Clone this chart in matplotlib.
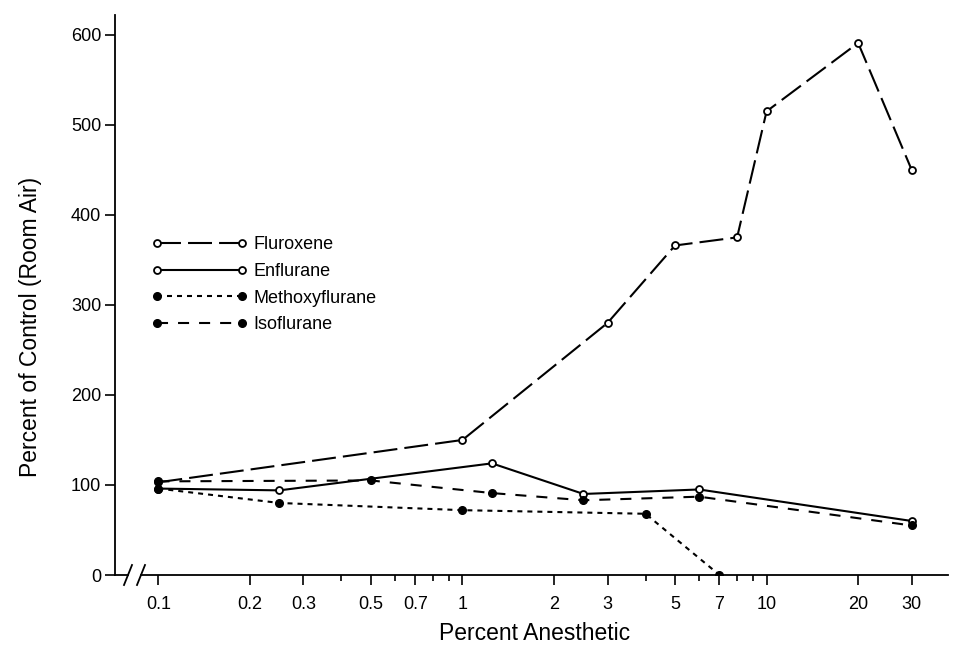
import numpy as np
import matplotlib
matplotlib.use('Agg')
import matplotlib.pyplot as plt
from matplotlib.ticker import FixedLocator, NullFormatter

plt.rcParams['font.family'] = ['Liberation Sans', 'DejaVu Sans']

# data
flur_x = [0.1, 1, 3, 5, 8, 10, 20, 30]
flur_y = [103, 150, 280, 366, 375, 515, 591, 450]
enfl_x = [0.1, 0.25, 1.25, 2.5, 6, 30]
enfl_y = [96, 94, 124, 90, 95, 60]
meth_x = [0.1, 0.25, 1, 4, 7]
meth_y = [96, 80, 72, 68, 0]
iso_x = [0.1, 0.5, 1.25, 2.5, 6, 30]
iso_y = [104, 105, 91, 83, 87, 55]

major_ticks = [0.1, 0.2, 0.3, 0.5, 0.7, 1, 2, 3, 5, 7, 10, 20, 30]
major_labels = ['0.1', '0.2', '0.3', '0.5', '0.7', '1', '2', '3', '5', '7', '10', '20', '30']
minor_ticks = [0.4, 0.6, 0.8, 0.9, 4, 6, 8, 9]
y_ticks = [0, 100, 200, 300, 400, 500, 600]

fig = plt.figure(figsize=(9.58, 6.45), dpi=100)
ax = fig.add_axes([115/958, 1 - 575/645, 833/958, 560/645])

lw = 1.5
ax.plot(flur_x, flur_y, color='black', lw=lw, dashes=(11.5, 3.4),
        marker='o', ms=5, mfc='white', mec='black', mew=1.3, label='Fluroxene')
ax.plot(enfl_x, enfl_y, color='black', lw=lw, linestyle='-',
        marker='o', ms=5, mfc='white', mec='black', mew=1.3, label='Enflurane')
ax.plot(meth_x, meth_y, color='black', lw=lw, dashes=(2.4, 2.4),
        marker='o', ms=5.5, mfc='black', mec='black', label='Methoxyflurane')
ax.plot(iso_x, iso_y, color='black', lw=lw, dashes=(5.3, 4.8),
        marker='o', ms=5.5, mfc='black', mec='black', label='Isoflurane')

ax.set_xscale('log')
ax.set_xlim(0.072, 39.5)
ax.set_ylim(0, 622)

ax.set_xticks(major_ticks)
ax.set_xticklabels(major_labels)
ax.xaxis.set_minor_locator(FixedLocator(minor_ticks))
ax.xaxis.set_minor_formatter(NullFormatter())
ax.set_yticks(y_ticks)

ax.tick_params(axis='both', which='major', direction='out', length=7, width=1.2,
               labelsize=13)
ax.tick_params(axis='x', which='major', pad=8)
ax.tick_params(axis='y', which='major', pad=3)
ax.tick_params(axis='x', which='minor', direction='out', length=4.5, width=1.2)

for s in ['top', 'right', 'bottom']:
    ax.spines[s].set_visible(False)
ax.spines['left'].set_linewidth(1.3)

# x axis with a break near the origin
w, h = 833.0, 560.0
b1, b2 = 13 / w, 26 / w
ax.plot([0, b1], [0, 0], color='black', lw=1.3, transform=ax.transAxes, clip_on=False)
ax.plot([b2, 1], [0, 0], color='black', lw=1.3, transform=ax.transAxes, clip_on=False)
for bx in (b1, b2):
    ax.plot([bx - 4 / w, bx + 4 / w], [-10 / h, 10 / h], color='black', lw=1.3,
            transform=ax.transAxes, clip_on=False)

ax.set_xlabel('Percent Anesthetic', fontsize=16.5, va='center')
ax.xaxis.set_label_coords(0.504, -0.1036)
ax.set_ylabel('Percent of Control (Room Air)', fontsize=16.5, va='center')
ax.yaxis.set_label_coords(-0.102, 0.443)

ax.legend(loc='upper left', bbox_to_anchor=(0.035, 0.618), frameon=False,
          numpoints=2, handlelength=5.3, handletextpad=0.35, labelspacing=0.54,
          fontsize=13, borderaxespad=0)

fig.savefig('out.png', dpi=100, facecolor='white')
